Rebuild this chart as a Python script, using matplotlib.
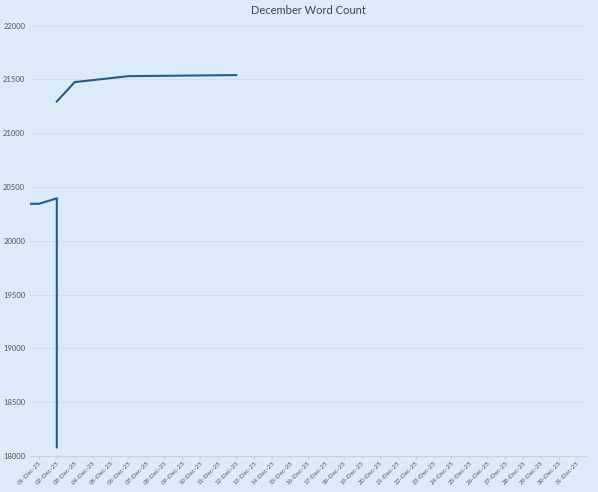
import matplotlib.pyplot as plt
import numpy as np

plt.rcParams["font.family"] = "Lato"

labels = ["%02d-Dec-25" % d for d in range(1, 32)]
# positions in days (1 = 01-Dec); NaN breaks the line
day = [0.5, 1, 2, 2, np.nan, 2, 3, 6, 12]
words = [20344, 20344, 20395, 18080, np.nan, 21295, 21475, 21530, 21540]

bg = "#ddeaf7"
fig = plt.figure(figsize=(5.98, 4.92), dpi=100, facecolor=bg)
ax = fig.add_axes([0.05, 0.073, 0.93, 0.875], facecolor=bg)
ax.plot(day, words, color="#1f5f8b", lw=1.5)
ax.set_xlim(0.5, 31.5)
ax.set_ylim(18000, 22000)
ax.set_yticks(range(18000, 22001, 500))
ax.set_xticks(range(1, 32))
ax.set_xticklabels(labels, rotation=45, ha="right", rotation_mode="anchor")
ax.tick_params(axis="both", labelsize=5.5, colors="#555555", length=0)
ax.tick_params(axis="x", length=2, color="#d0d0d0", labelsize=4.6, pad=1)
ax.grid(axis="y", color="#d4dde6", lw=0.8)
for s in ["top", "right", "left"]:
    ax.spines[s].set_visible(False)
ax.spines["bottom"].set_color("#d0d0d0")
ax.set_title("December Word Count", fontsize=8, color="#444444", pad=8)
fig.savefig("out.png", facecolor=bg)
